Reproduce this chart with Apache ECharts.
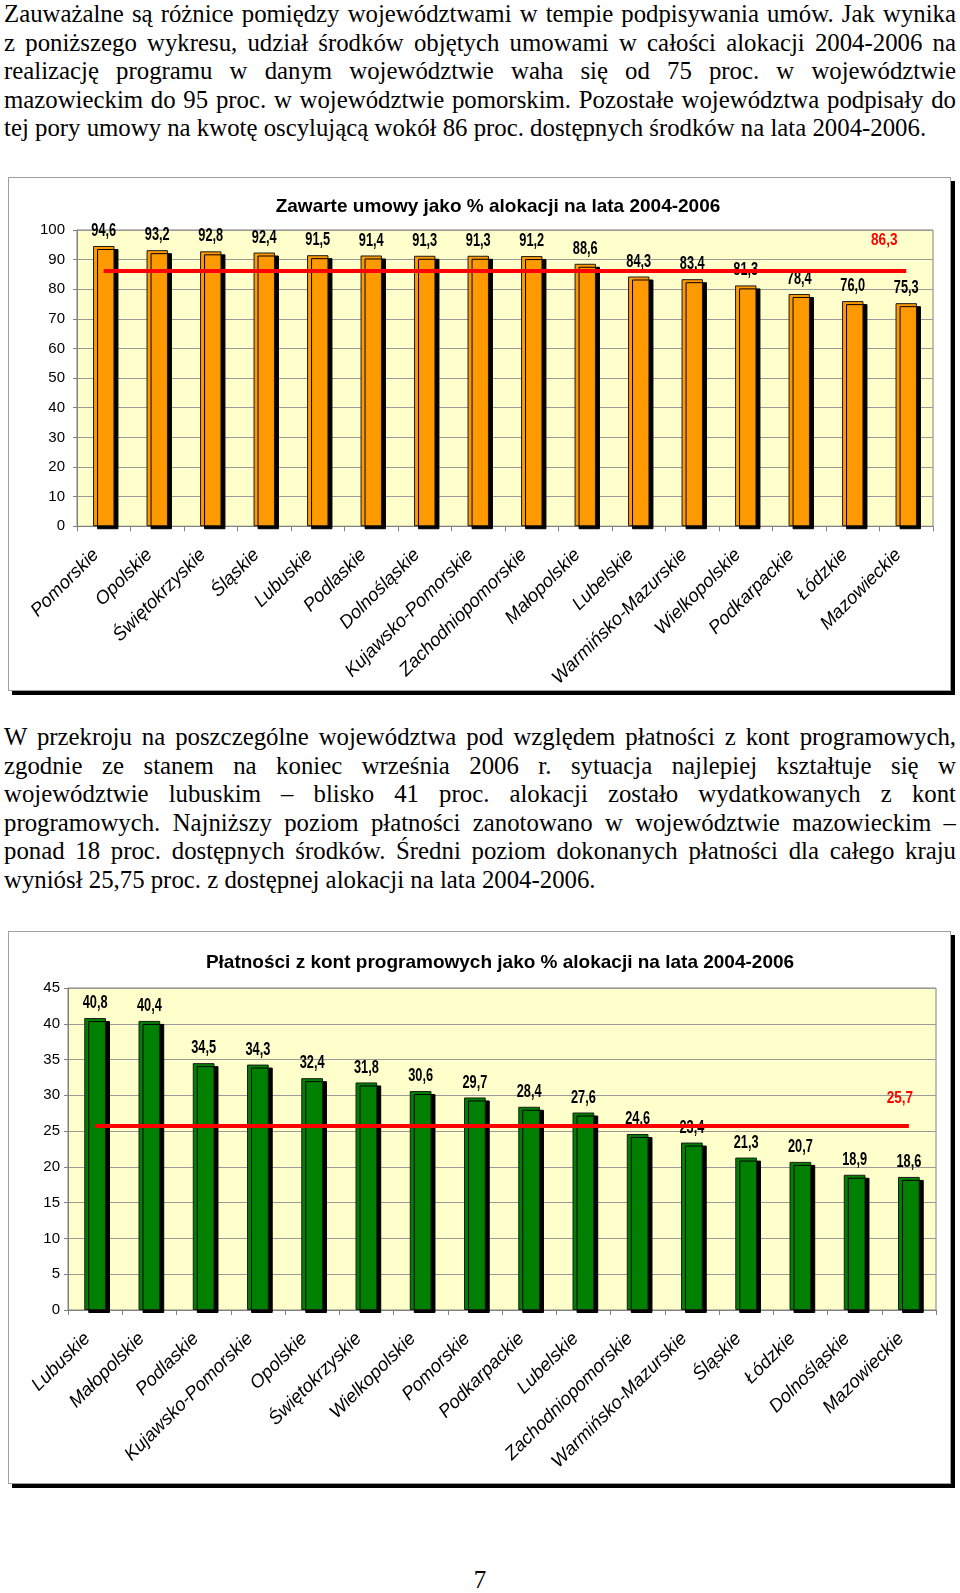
<!DOCTYPE html>
<html><head><meta charset="utf-8">
<script src="https://cdn.jsdelivr.net/npm/echarts@6/dist/echarts.min.js"></script>
<style>
html,body{margin:0;padding:0;background:#fff;}
body{width:960px;height:1593px;position:relative;overflow:hidden;}
.p{position:absolute;left:4px;width:952px;font-family:'Liberation Serif','Times New Roman',serif;font-size:24.8px;line-height:28.6px;color:#000;}
.p div{text-align:justify;text-align-last:justify;white-space:nowrap;}
.p div.last{text-align:left;text-align-last:left;}
.box{position:absolute;left:8px;width:941px;border:1px solid #a0a0a0;box-shadow:4px 4px 0 #000;background:#fff;}
.num{position:absolute;left:0;width:960px;text-align:center;top:1566px;font-family:'Liberation Serif','Times New Roman',serif;font-size:25px;}
</style></head>
<body>
<div class="p" style="top:0px">
<div>Zauważalne są różnice pomiędzy województwami w tempie podpisywania umów. Jak wynika</div>
<div>z poniższego wykresu, udział środków objętych umowami w całości alokacji 2004-2006 na</div>
<div>realizację programu w danym województwie waha się od 75 proc. w województwie</div>
<div>mazowieckim do 95 proc. w województwie pomorskim. Pozostałe województwa podpisały do</div>
<div class="last">tej pory umowy na kwotę oscylującą wokół 86 proc. dostępnych środków na lata 2004-2006.</div>
</div>
<div class="box" style="top:177px;height:512px"><div id="c1" style="width:941px;height:512px"></div></div>
<div class="p" style="top:723px">
<div>W przekroju na poszczególne województwa pod względem płatności z kont programowych,</div>
<div>zgodnie ze stanem na koniec września 2006 r. sytuacja najlepiej kształtuje się w</div>
<div>województwie lubuskim – blisko 41 proc. alokacji zostało wydatkowanych z kont</div>
<div>programowych. Najniższy poziom płatności zanotowano w województwie mazowieckim –</div>
<div>ponad 18 proc. dostępnych środków. Średni poziom dokonanych płatności dla całego kraju</div>
<div class="last">wyniósł 25,75 proc. z dostępnej alokacji na lata 2004-2006.</div>
</div>
<div class="box" style="top:931px;height:551px"><div id="c2" style="width:941px;height:551px"></div></div>
<div class="num">7</div>
<script>
// ---- data: chart 1 ----
const title1 = 'Zawarte umowy jako % alokacji na lata 2004-2006';
const cat1 = ['Pomorskie','Opolskie','Świętokrzyskie','Śląskie','Lubuskie','Podlaskie','Dolnośląskie','Kujawsko-Pomorskie','Zachodniopomorskie','Małopolskie','Lubelskie','Warmińsko-Mazurskie','Wielkopolskie','Podkarpackie','Łódzkie','Mazowieckie'];
const val1 = [94.6,93.2,92.8,92.4,91.5,91.4,91.3,91.3,91.2,88.6,84.3,83.4,81.3,78.4,76.0,75.3];
const avg1 = 86.3;
const yMin1 = 0, yMax1 = 100, yStep1 = 10;
// ---- data: chart 2 ----
const title2 = 'Płatności z kont programowych jako % alokacji na lata 2004-2006';
const cat2 = ['Lubuskie','Małopolskie','Podlaskie','Kujawsko-Pomorskie','Opolskie','Świętokrzyskie','Wielkopolskie','Pomorskie','Podkarpackie','Lubelskie','Zachodniopomorskie','Warmińsko-Mazurskie','Śląskie','Łódzkie','Dolnośląskie','Mazowieckie'];
const val2 = [40.8,40.4,34.5,34.3,32.4,31.8,30.6,29.7,28.4,27.6,24.6,23.4,21.3,20.7,18.9,18.6];
const avg2 = 25.7;
const yMin2 = 0, yMax2 = 45, yStep2 = 5;

const SANS = "'Liberation Sans', Arial, sans-serif";
const fmt = v => Number(v).toFixed(1).replace('.', ',');

function makeOption(cfg) {
  const last = cfg.cats.length - 1;
  return {
    animation: false,
    graphic: [{
      type: 'text', x: cfg.titleX, y: cfg.titleY,
      style: { text: cfg.title, fill: '#000', fontSize: 19, fontWeight: 'bold', fontFamily: SANS, align: 'center', verticalAlign: 'middle' }
    }],
    grid: { left: cfg.grid[0], top: cfg.grid[1], width: cfg.grid[2], height: cfg.grid[3],
      show: true, backgroundColor: '#FFFFCC', borderColor: '#808080', borderWidth: 1 },
    xAxis: {
      type: 'category', data: cfg.cats,
      axisLine: { show: true, lineStyle: { color: '#808080', width: 1 } },
      axisTick: { show: true, length: 5, lineStyle: { color: '#808080' } },
      axisLabel: { interval: 0, rotate: 45, fontStyle: 'italic', fontSize: 18.5, fontFamily: SANS, color: '#000',
        margin: cfg.xMargin, padding: [0, 11, 0, 0] },
      splitLine: { show: false }
    },
    yAxis: {
      type: 'value', min: cfg.yMin, max: cfg.yMax, interval: cfg.yStep,
      axisLine: { show: true, lineStyle: { color: '#808080' } },
      axisTick: { show: true, length: 4, lineStyle: { color: '#808080' } },
      axisLabel: { fontSize: 15, fontFamily: SANS, color: '#000', margin: cfg.yMargin },
      splitLine: { show: true, lineStyle: { color: '#9a9a9a', width: 1 } }
    },
    series: [{
      type: 'bar', data: cfg.vals, barWidth: '40%', z: 2,
      itemStyle: { color: cfg.color, borderColor: '#1a1a1a', borderWidth: 1,
        shadowColor: '#000', shadowBlur: 0, shadowOffsetX: 4, shadowOffsetY: 3 },
      markLine: {
        silent: true, symbol: ['none', 'none'],
        lineStyle: { color: '#FF0000', width: 4, type: 'solid' },
        label: { show: false },
        data: [[{ coord: [0, cfg.avg] }, { coord: [last, cfg.avg] }]]
      }
    }, {
      // value labels (condensed bold), positioned through the axes
      type: 'custom', z: 1,
      data: cfg.vals.map((v, i) => [i, v]),
      encode: { x: 0, y: 1 },
      renderItem: (params, api) => {
        const pt = api.coord([api.value(0), api.value(1)]);
        return {
          type: 'text', x: pt[0], y: pt[1] - 15, scaleX: 0.69,
          style: { text: fmt(api.value(1)), fontSize: 18.5, fontWeight: 'bold', fontFamily: SANS,
            fill: '#000', align: 'center', verticalAlign: 'middle' }
        };
      }
    }, {
      // average label
      type: 'custom', z: 5,
      data: [[last, cfg.avg]],
      encode: { x: 0, y: 1 },
      renderItem: (params, api) => {
        const pt = api.coord([api.value(0), api.value(1)]);
        return {
          type: 'text', x: pt[0] + cfg.avgOffset[0], y: pt[1] + cfg.avgOffset[1], scaleX: 0.8,
          style: { text: fmt(api.value(1)), fontSize: 17, fontWeight: 'bold', fontFamily: SANS,
            fill: '#FF0000', align: 'center', verticalAlign: 'middle' }
        };
      }
    }]
  };
}

const c1 = echarts.init(document.getElementById('c1'));
c1.setOption(makeOption({
  title: title1, titleX: 489, titleY: 29,
  grid: [68, 52, 856, 297], cats: cat1, vals: val1, avg: avg1,
  yMin: yMin1, yMax: yMax1, yStep: yStep1, color: '#FF9900',
  xMargin: 18, yMargin: 12, avgOffset: [-22, -30]
}));
const c2 = echarts.init(document.getElementById('c2'));
c2.setOption(makeOption({
  title: title2, titleX: 491, titleY: 31,
  grid: [59, 56, 868, 322], cats: cat2, vals: val2, avg: avg2,
  yMin: yMin2, yMax: yMax2, yStep: yStep2, color: '#008000',
  xMargin: 18, yMargin: 8, avgOffset: [-9, -28]
}));
</script>
</body></html>
